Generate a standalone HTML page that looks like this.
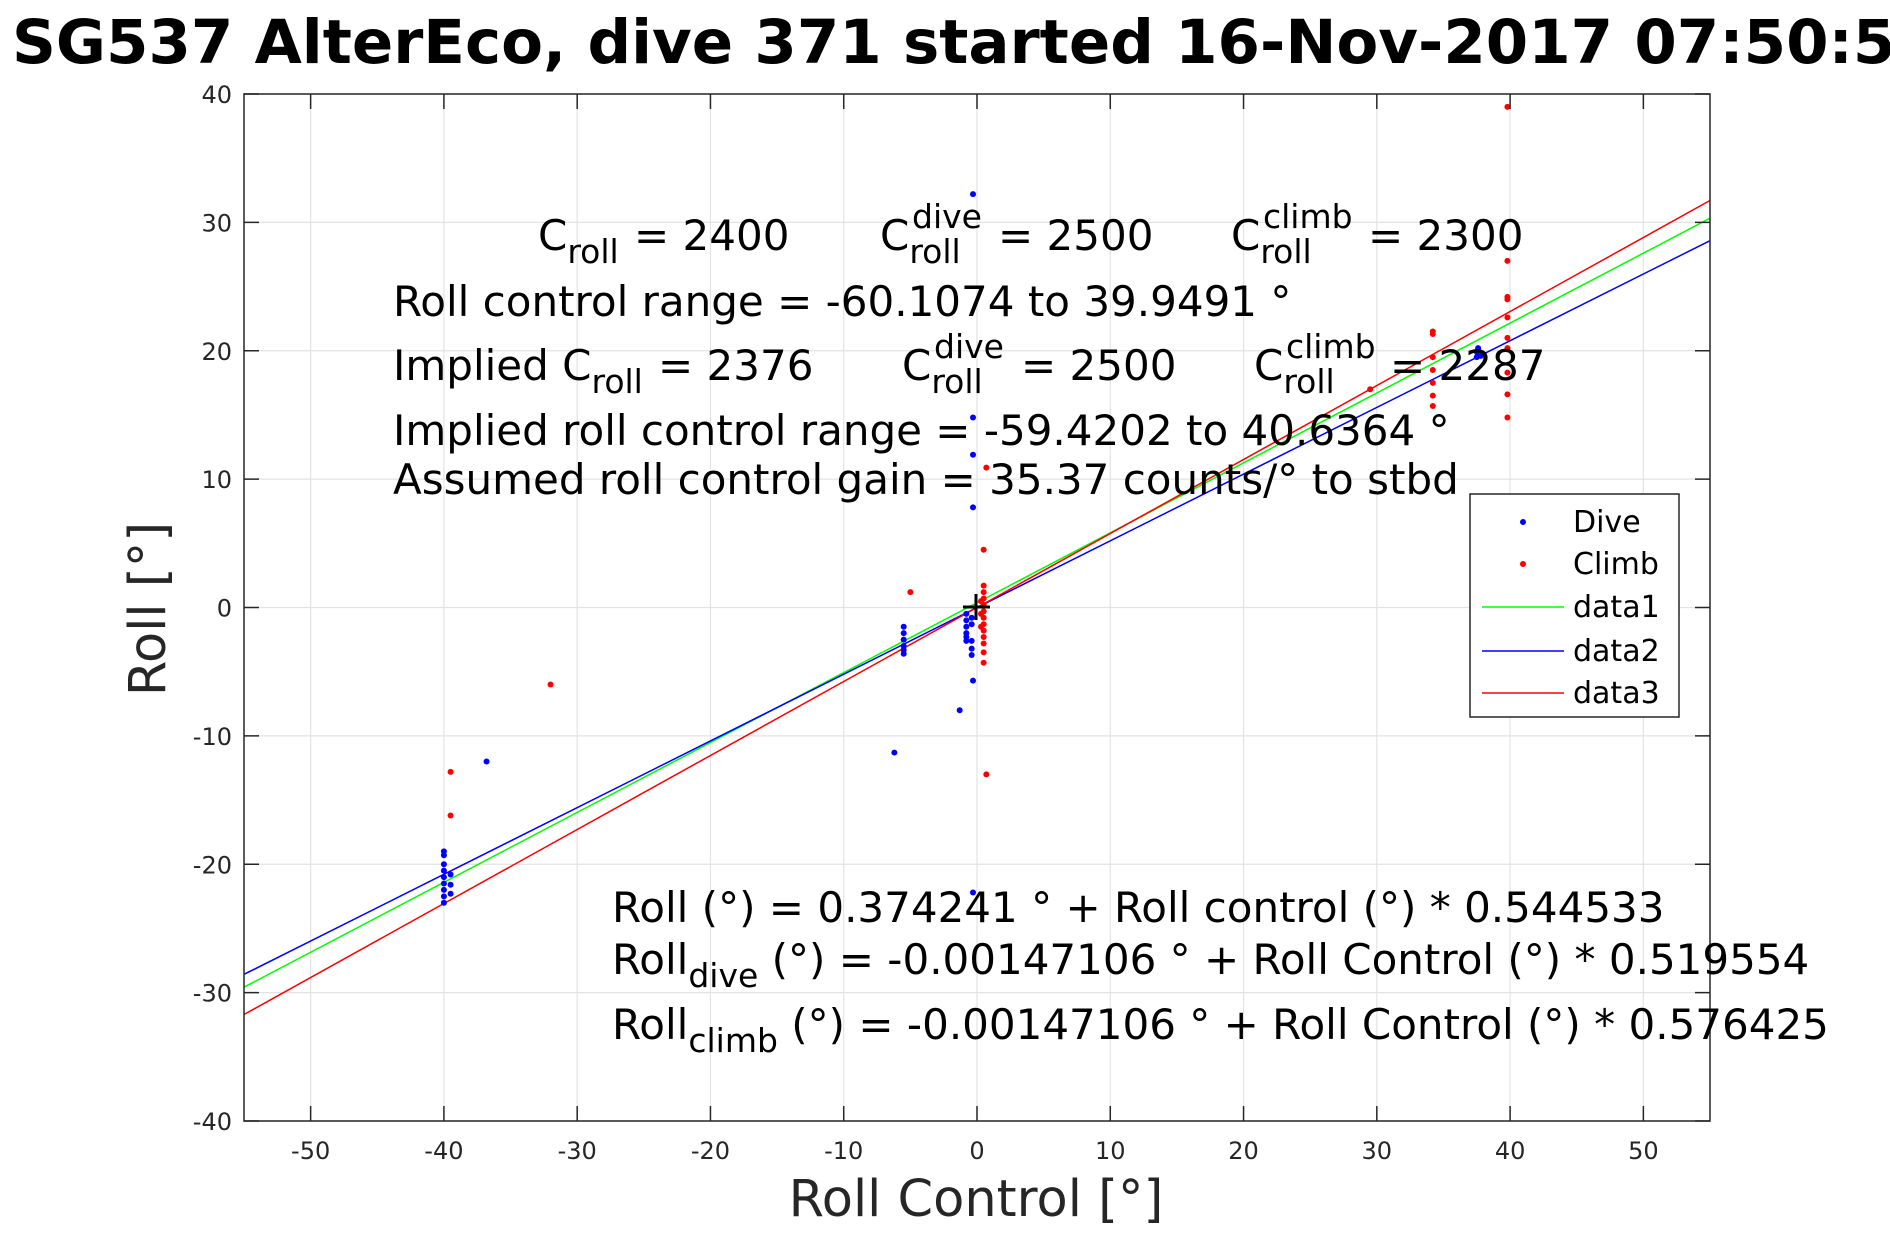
<!DOCTYPE html>
<html><head><meta charset="utf-8"><style>
html,body{margin:0;padding:0;background:#fff}
svg{display:block;font-family:"Liberation Sans","DejaVu Sans",sans-serif}
</style></head><body>
<svg id="chart" width="1890" height="1260" viewBox="0 0 1890 1260" xmlns="http://www.w3.org/2000/svg">
<rect width="1890" height="1260" fill="#fff"/>
<text x="12" y="63" font-family="DejaVu Sans, sans-serif" font-weight="bold" font-size="61" fill="#000">SG537 AlterEco, dive 371 started 16-Nov-2017 07:50:53</text>
<g id="grid"></g>
<g id="lines"></g>
<g id="points"></g>
<rect x="244" y="94" width="1466" height="1027" fill="none" stroke="#262626" stroke-width="1.5"/>
<g id="ticks"></g>
<g stroke="#000" stroke-width="3"><line x1="963" y1="607" x2="990" y2="607"/><line x1="976" y1="594" x2="976" y2="620"/></g>
<text transform="translate(165,609) rotate(-90)" text-anchor="middle" font-family="DejaVu Sans, sans-serif" font-size="51" fill="#262626">Roll [°]</text>
<text x="976" y="1216" text-anchor="middle" font-family="DejaVu Sans, sans-serif" font-size="51" fill="#262626">Roll Control [°]</text>
<g font-family="DejaVu Sans, sans-serif" font-size="42" fill="#000">
<text x="538" y="250">C<tspan font-size="33" dy="13">roll</tspan></text><text x="634" y="250">= 2400</text>
<text x="880" y="250">C<tspan font-size="33" dy="13">roll</tspan></text><text x="912" y="228" font-size="33">dive</text><text x="998" y="250">= 2500</text>
<text x="1231" y="250">C<tspan font-size="33" dy="13">roll</tspan></text><text x="1263" y="228" font-size="33">climb</text><text x="1368" y="250">= 2300</text>
<text x="393" y="316">Roll control range = -60.1074 to 39.9491 °</text>
<text x="393" y="380">Implied C<tspan font-size="33" dy="13">roll</tspan></text><text x="658" y="380">= 2376</text>
<text x="902" y="380">C<tspan font-size="33" dy="13">roll</tspan></text><text x="934" y="358" font-size="33">dive</text><text x="1021" y="380">= 2500</text>
<text x="1254" y="380">C<tspan font-size="33" dy="13">roll</tspan></text><text x="1286" y="358" font-size="33">climb</text><text x="1390" y="380">= 2287</text>
<text x="393" y="445">Implied roll control range = -59.4202 to 40.6364 °</text>
<text x="393" y="494">Assumed roll control gain = 35.37 counts/° to stbd</text>
<text x="612" y="922">Roll (°) = 0.374241 ° + Roll control (°) * 0.544533</text>
<text x="612" y="974">Roll<tspan font-size="33" dy="13">dive</tspan><tspan dy="-13"> (°) = -0.00147106 ° + Roll Control (°) * 0.519554</tspan></text>
<text x="612" y="1039">Roll<tspan font-size="33" dy="13">climb</tspan><tspan dy="-13"> (°) = -0.00147106 ° + Roll Control (°) * 0.576425</tspan></text>
</g>
<g>
<rect x="1470" y="494" width="209" height="223" fill="#fff" stroke="#262626" stroke-width="1.5"/>
<g font-family="DejaVu Sans, sans-serif" font-size="30" fill="#000">
<g><circle cx="1523" cy="522" r="3" fill="#00f"/><text x="1573" y="532">Dive</text></g>
<g><circle cx="1523" cy="564" r="3" fill="#f00"/><text x="1573" y="574">Climb</text></g>
<g><line x1="1482" y1="607" x2="1564" y2="607" stroke="#0f0" stroke-width="1.5"/><text x="1573" y="617">data1</text></g>
<g><line x1="1482" y1="651" x2="1564" y2="651" stroke="#00f" stroke-width="1.5"/><text x="1573" y="661">data2</text></g>
<g><line x1="1482" y1="693" x2="1564" y2="693" stroke="#f00" stroke-width="1.5"/><text x="1573" y="703">data3</text></g>
</g></g>
</svg>
<script>
const xTicks = [-50,-40,-30,-20,-10,0,10,20,30,40,50];
const yTicks = [-40,-30,-20,-10,0,10,20,30,40];
const fitNames = ['data1','data2','data3'];
const fitIntercepts = [0.374241,-0.00147106,-0.00147106];
const fitSlopes = [0.544533,0.519554,0.576425];
const fitColors = ['#00ff00','#0000ff','#ff0000'];
const diveX = [-40,-40,-40,-40,-40,-40,-40,-40,-40,-39.5,-39.5,-39.5,-36.8,-5.5,-5.5,-5.5,-5.5,-5.5,-5.5,-6.2,-1.3,-0.3,-0.3,-0.3,-0.3,-0.3,-0.3,-0.8,-0.8,-0.8,-0.8,-0.8,-0.8,-0.4,-0.4,-0.4,-0.4,-0.4,37.5,37.5,37.6,37.8];
const diveY = [-19,-19.3,-20,-20.5,-21,-21.5,-22,-22.5,-23,-20.8,-21.6,-22.3,-12,-1.5,-2,-2.5,-3,-3.3,-3.6,-11.3,-8,32.2,14.8,11.9,7.8,-5.7,-22.2,-0.5,-1,-1.5,-2,-2.3,-2.6,-0.8,-1.3,-2.6,-3.2,-3.7,19.5,19.9,20.2,19.6];
const climbX = [-39.5,-39.5,-32,-5,0.5,0.5,0.5,0.5,0.5,0.5,0.5,0.5,0.5,0.5,0.5,0.5,0.5,0.3,0.3,0.3,0.7,0.7,29.5,34.2,34.2,34.2,34.2,34.2,34.2,34.2,39.8,39.8,39.8,39.8,39.8,39.8,39.8,39.8,39.8,39.8];
const climbY = [-12.8,-16.2,-6,1.2,4.5,1.7,1.2,0.7,0.2,-0.3,-0.8,-1.3,-1.8,-2.3,-2.8,-3.5,-4.3,0.5,-0.5,-1.5,-13,10.9,17,21.5,21.3,19.5,18.5,17.5,16.5,15.7,39,27,24.2,24,22.6,21,20.2,18.3,16.6,14.8];
const X0=244,X1=1710,Y0=94,Y1=1121,xmin=-55,xmax=55,ymin=-40,ymax=40;
const sx=v=>X0+(v-xmin)/(xmax-xmin)*(X1-X0);
const sy=v=>Y1-(v-ymin)/(ymax-ymin)*(Y1-Y0);
const NS='http://www.w3.org/2000/svg';
function mk(tag,attrs,parent){const e=document.createElementNS(NS,tag);for(const k in attrs)e.setAttribute(k,attrs[k]);parent.appendChild(e);return e;}
const grid=document.getElementById('grid'),ticks=document.getElementById('ticks'),lines=document.getElementById('lines'),pts=document.getElementById('points');
xTicks.forEach(t=>{const x=sx(t);
 const g=mk('line',{x1:x,x2:x,y1:Y0,y2:Y1,stroke:'#e3e3e3','stroke-width':1.2},grid);
 
 
 mk('line',{x1:x,x2:x,y1:Y1,y2:Y1-15,stroke:'#262626','stroke-width':1.5},ticks);
 mk('line',{x1:x,x2:x,y1:Y0,y2:Y0+15,stroke:'#262626','stroke-width':1.5},ticks);
 const tx=mk('text',{x:x,y:1159,'text-anchor':'middle','font-size':24,fill:'#262626','font-family':'DejaVu Sans, sans-serif'},ticks);
 
 
 tx.textContent=t;});
yTicks.forEach(t=>{const y=sy(t);
 const g=mk('line',{x1:X0,x2:X1,y1:y,y2:y,stroke:'#e3e3e3','stroke-width':1.2},grid);
 
 
 mk('line',{x1:X0,x2:X0+15,y1:y,y2:y,stroke:'#262626','stroke-width':1.5},ticks);
 mk('line',{x1:X1,x2:X1-15,y1:y,y2:y,stroke:'#262626','stroke-width':1.5},ticks);
 const tx=mk('text',{x:232,y:y+9,'text-anchor':'end','font-size':24,fill:'#262626','font-family':'DejaVu Sans, sans-serif'},ticks);
 
 
 tx.textContent=t;});
fitNames.forEach((n,i)=>{
 const l=mk('line',{x1:sx(xmin),y1:sy(fitIntercepts[i]+fitSlopes[i]*xmin),x2:sx(xmax),y2:sy(fitIntercepts[i]+fitSlopes[i]*xmax),stroke:fitColors[i],'stroke-width':1.5},lines);
 
 });
diveX.forEach((x,i)=>{const c=mk('circle',{cx:sx(x),cy:sy(diveY[i]),r:3,fill:'#0000ff'},pts);
 
 });
climbX.forEach((x,i)=>{const c=mk('circle',{cx:sx(x),cy:sy(climbY[i]),r:3,fill:'#ff0000'},pts);
 
 });
</script>
</body></html>
